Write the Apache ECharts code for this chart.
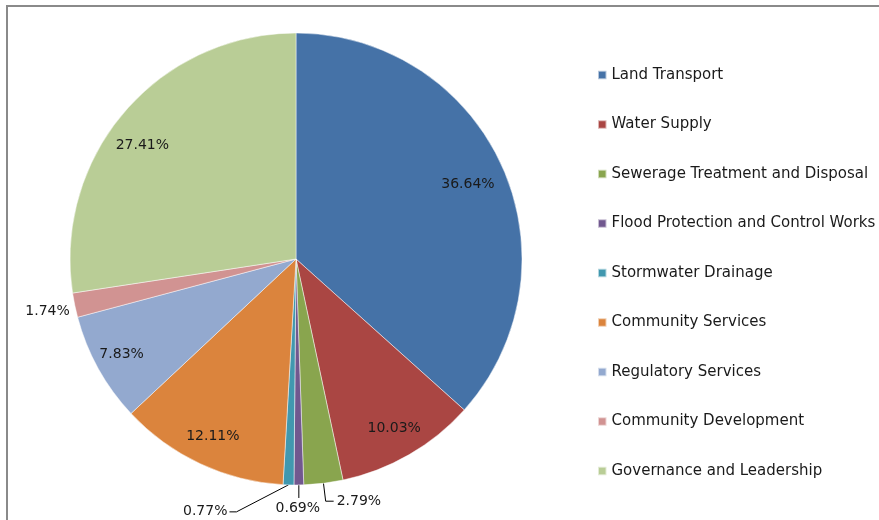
<!DOCTYPE html>
<html>
<head>
<meta charset="utf-8">
<script src="https://cdn.jsdelivr.net/npm/echarts@6/dist/echarts.min.js"></script>
<style>
  html, body { margin: 0; padding: 0; background: #fff; }
  #chart { width: 879px; height: 520px; }
</style>
</head>
<body>
<div id="chart"></div>
<script>
// Expenditure share by activity group (percent of total)
const categories = [
  'Land Transport',
  'Water Supply',
  'Sewerage Treatment and Disposal',
  'Flood Protection and Control Works',
  'Stormwater Drainage',
  'Community Services',
  'Regulatory Services',
  'Community Development',
  'Governance and Leadership'
];
const shares = [36.64, 10.03, 2.79, 0.69, 0.77, 12.11, 7.83, 1.74, 27.41];

const palette = ['#4572A7', '#AA4643', '#89A54E', '#71588F', '#4198AF',
                 '#DB843D', '#93A9CF', '#D19392', '#B9CD96'];

const FONT = '"DejaVu Sans", "Open Sans", sans-serif';
const SMALL = 3;          // slices below this share get an outside label
const CENTER = [296, 259];
const R = 226;

const fmt = p => p.value.toFixed(2) + '%';

// leader-line lengths for the small outside labels
const leader = {
  'Sewerage Treatment and Disposal': { show: true, length: 18, length2: 8 },
  'Flood Protection and Control Works': { show: true, length: 12, length2: 0 },
  'Stormwater Drainage': { show: true, length: 12, length2: 40 },
  'Community Development': { show: false, length: 2, length2: 0 }
};

// small nudges for label placement
const nudge = {
  'Land Transport': [-7, 5],
  'Regulatory Services': [-3, 0],
  'Governance and Leadership': [-5, 14],
  'Community Development': [0, 6]
};

const nudgeLayout = p => {
  const n = nudge[categories[p.dataIndex]];
  return n ? { dx: n[0], dy: n[1] } : {};
};

const pieData = categories.map((name, i) => {
  const item = { name: name, value: shares[i], itemStyle: { color: palette[i] } };
  if (shares[i] < SMALL) {
    item.label = { show: true };
    item.labelLine = leader[name] || { show: true };
  }
  return item;
});

const ringData = categories.map((name, i) => ({
  name: name,
  value: shares[i],
  label: { show: shares[i] >= SMALL }
}));

const chart = echarts.init(document.getElementById('chart'), null, { renderer: 'canvas' });

chart.setOption({
  animation: false,
  backgroundColor: '#ffffff',
  graphic: [{
    type: 'rect',
    silent: true,
    shape: { x: 7, y: 6, width: 1200, height: 1200 },
    style: { fill: 'none', stroke: '#8a8a8a', lineWidth: 2 }
  }],
  legend: {
    orient: 'vertical',
    left: 592,
    top: 62,
    data: categories,
    icon: 'rect',
    itemWidth: 8.5,
    itemHeight: 8.5,
    itemGap: 33.5,
    selectedMode: false,
    textStyle: { fontFamily: FONT, fontSize: 15, color: '#1a1a1a', lineHeight: 16 }
  },
  series: [
    {
      type: 'pie',
      center: CENTER,
      radius: R,
      startAngle: 90,
      clockwise: true,
      avoidLabelOverlap: false,
      silent: true,
      data: pieData,
      itemStyle: { borderColor: 'rgba(255,255,255,0.6)', borderWidth: 0.8 },
      label: {
        show: false,
        position: 'outside',
        formatter: fmt,
        fontFamily: FONT,
        fontSize: 14,
        color: '#1a1a1a',
        distanceToLabelLine: 3
      },
      labelLine: { lineStyle: { color: '#000', width: 1 } },
      labelLayout: function (p) {
        const a = p.labelLinePoints && p.labelLinePoints[0];
        const name = categories[p.dataIndex];
        if (a && name === 'Flood Protection and Control Works') {
          return {
            x: a[0] - 1, y: a[1] + 16, align: 'center', verticalAlign: 'top',
            labelLinePoints: [a, [a[0], a[1] + 13], [a[0], a[1] + 13]]
          };
        }
        if (a && name === 'Stormwater Drainage') {
          return {
            x: a[0] - 61, y: a[1] + 26, align: 'right', verticalAlign: 'middle',
            labelLinePoints: [a, [a[0] - 52, a[1] + 27], [a[0] - 59, a[1] + 27]]
          };
        }
        return nudgeLayout(p);
      }
    },
    {
      // transparent ring carrying the inner percentage labels
      type: 'pie',
      center: CENTER,
      radius: [160, R],
      startAngle: 90,
      clockwise: true,
      silent: true,
      data: ringData,
      itemStyle: { color: 'rgba(0,0,0,0)' },
      label: {
        position: 'inside',
        formatter: fmt,
        fontFamily: FONT,
        fontSize: 14,
        color: '#1a1a1a'
      },
      labelLine: { show: false },
      labelLayout: nudgeLayout
    }
  ]
});
</script>
</body>
</html>
